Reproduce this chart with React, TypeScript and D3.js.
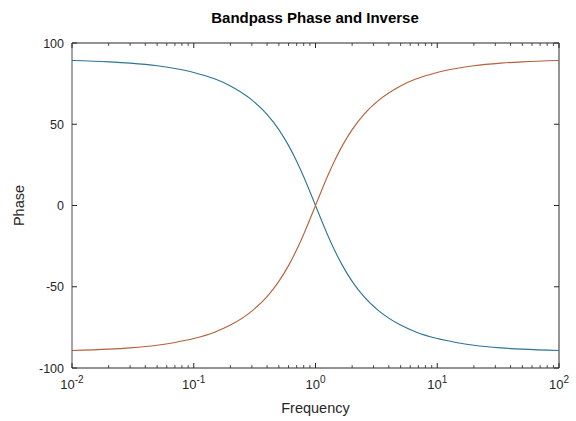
import React from "react";
import * as d3 from "d3";

// Frequency samples (rad/s) and the phase read at each one (degrees)
const frequency = [
  0.01, 0.02, 0.03, 0.05, 0.07, 0.1, 0.15, 0.2, 0.3, 0.4, 0.5, 0.6, 0.7, 0.8, 0.9, 1,
  1.111, 1.25, 1.429, 1.667, 2, 2.5, 3.333, 5, 6.667, 10, 14.29, 20, 33.33, 50, 100,
];
const bandpassPhase = [
  89.2, 88.4, 87.6, 86.0, 84.3, 81.9, 77.8, 73.6, 65.0, 56.1, 46.7, 37.0, 27.3, 17.7, 8.5, 0,
  -8.5, -17.7, -27.3, -37.0, -46.7, -56.1, -65.0, -73.6, -77.8, -81.9, -84.3, -86.0, -87.6, -88.4, -89.2,
];
const inversePhase = bandpassPhase.map((v) => -v);

const yTicks = [-100, -50, 0, 50, 100];
const xDecades = [-2, -1, 0, 1, 2];

const W = 576;
const H = 421;
const left = 72;
const right = 559;
const top = 43;
const bottom = 368;

const font = "'Liberation Sans', Arial, Helvetica, sans-serif";

export default function App() {
  const x = d3.scaleLog().domain([0.01, 100]).range([left, right]);
  const y = d3.scaleLinear().domain([-100, 100]).range([bottom, top]);

  const line = d3
    .line<number>()
    .x((_, i) => x(frequency[i]))
    .y((d) => y(d))
    .curve(d3.curveMonotoneX);

  const minor: number[] = [];
  for (let e = -2; e < 2; e++) {
    for (let m = 2; m <= 9; m++) minor.push(m * Math.pow(10, e));
  }

  const major = 5;
  const minorLen = 3;

  return (
    <svg
      width={W}
      height={H}
      style={{ position: "absolute", left: 0, top: 0, background: "#fff" }}
      fontFamily={font}
    >
      <rect x={0} y={0} width={W} height={H} fill="#fff" />

      {/* title */}
      <text x={315} y={23} textAnchor="middle" fontSize={15} fontWeight="bold" fill="#000">
        Bandpass Phase and Inverse
      </text>

      {/* curves */}
      <path d={line(bandpassPhase) || ""} fill="none" stroke="#2b7493" strokeWidth={1.1} />
      <path d={line(inversePhase) || ""} fill="none" stroke="#b5603a" strokeWidth={1.1} />

      {/* axes box */}
      <line x1={left} x2={right} y1={top} y2={top} stroke="#262626" strokeWidth={1} />
      <line x1={left} x2={right} y1={bottom} y2={bottom} stroke="#262626" strokeWidth={1} />
      <line x1={left} x2={left} y1={top} y2={bottom} stroke="#4a4a4a" strokeWidth={1} />
      <line x1={right} x2={right} y1={top} y2={bottom} stroke="#7a7a7a" strokeWidth={1.6} />

      {/* y ticks */}
      {yTicks.map((t) => (
        <g key={"y" + t}>
          <line x1={left} x2={left + major} y1={y(t)} y2={y(t)} stroke="#262626" />
          <line x1={right - major} x2={right} y1={y(t)} y2={y(t)} stroke="#262626" />
          <text x={left - 8} y={y(t) + 4.5} textAnchor="end" fontSize={12.5} fill="#262626">
            {t}
          </text>
        </g>
      ))}

      {/* x major ticks and labels */}
      {xDecades.map((e) => {
        const px = x(Math.pow(10, e));
        return (
          <g key={"x" + e}>
            <line x1={px} x2={px} y1={bottom} y2={bottom - major} stroke="#262626" />
            <line x1={px} x2={px} y1={top} y2={top + major} stroke="#262626" />
            <text x={px} y={389} textAnchor="middle" fontSize={13} fill="#262626">
              10
              <tspan dy={-6} fontSize={10}>
                {e}
              </tspan>
            </text>
          </g>
        );
      })}

      {/* x minor ticks */}
      {minor.map((m, i) => {
        const px = x(m);
        return (
          <g key={"m" + i}>
            <line x1={px} x2={px} y1={bottom} y2={bottom - minorLen} stroke="#262626" strokeWidth={0.8} />
            <line x1={px} x2={px} y1={top} y2={top + minorLen} stroke="#262626" strokeWidth={0.8} />
          </g>
        );
      })}

      {/* axis labels */}
      <text x={(left + right) / 2} y={413} textAnchor="middle" fontSize={14.5} fill="#262626">
        Frequency
      </text>
      <text
        transform={`translate(24, ${(top + bottom) / 2}) rotate(-90)`}
        textAnchor="middle"
        fontSize={14.5}
        fill="#262626"
      >
        Phase
      </text>
    </svg>
  );
}
